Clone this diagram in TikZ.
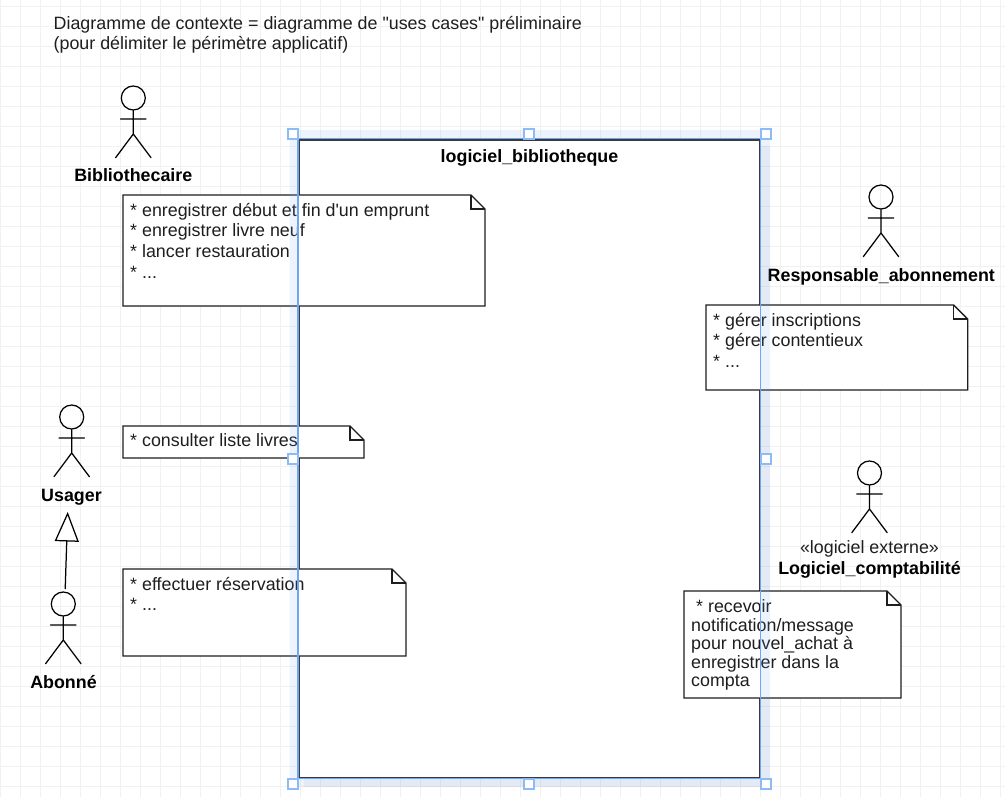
\documentclass[tikz,border=0pt]{standalone}
\usepackage{fontspec}
\setmainfont{Liberation Sans}[Ligatures={TeXOff,NoCommon}]
\usetikzlibrary{arrows.meta}
\definecolor{gridc}{HTML}{F1F1F1}
\definecolor{ink}{HTML}{1E1E1E}
\definecolor{frame}{HTML}{3A3A3A}
\definecolor{sel}{HTML}{6EA6F5}
\definecolor{handle}{HTML}{8DBBF9}
\tikzset{
  x=1pt,y=-1pt,
  actorline/.style={draw=black,line width=1.25pt,line cap=round},
  actorname/.style={font=\bfseries\fontsize{17.85}{20}\selectfont,text=black,inner sep=0pt,anchor=base},
  notebox/.style={draw=ink,fill=white,line width=1.4pt,line join=miter},
  notetext/.style={font=\fontsize{17.85}{20.6}\selectfont,text=ink,inner sep=0pt,anchor=north west,align=left},
  handlebox/.style={draw=handle,fill=white,line width=2pt,minimum size=9.5pt,inner sep=0pt,rectangle},
  band/.style={fill=sel,fill opacity=0.13,draw=none},
}
\newcommand{\actorfig}[3]{% name, head x, head y
  \node[circle,actorline,fill=none,minimum size=24pt,inner sep=0pt] (#1) at (#2,#3) {};
  \coordinate (#1-hip) at (#2,#3+36);
  \coordinate (#1-armL) at (#2-12.7,#3+21);
  \coordinate (#1-armR) at (#2+12.7,#3+21);
  \coordinate (#1-footL) at (#2-17.7,#3+59.7);
  \coordinate (#1-footR) at (#2+17.7,#3+59.7);
  \draw[actorline] (#1.south) -- (#1-hip) (#1-armL) -- (#1-armR)
    (#1-footL) -- (#1-hip) -- (#1-footR);
}
\newcommand{\notefig}[6]{% name, x1, y1, x2, y2, fold
  \draw[notebox] (#2,#3) -- (#4-#6,#3) -- (#4,#3+#6) -- (#4,#5) -- (#2,#5) -- cycle;
  \draw[notebox,fill=none] (#4-#6,#3) -- (#4-#6,#3+#6) -- (#4,#3+#6);
  \coordinate (#1) at (#2,#3);
}
\begin{document}
\begin{tikzpicture}
\useasboundingbox (0,0) rectangle (1005,797);
\fill[white] (0,0) rectangle (1005,797);
% grid
\foreach \gx in {0,...,50} \draw[gridc,line width=1pt] (\gx*20+0.5,0) -- (\gx*20+0.5,797);
\foreach \gy in {0,...,39} \draw[gridc,line width=1pt] (0,\gy*20+6.7) -- (1005,\gy*20+6.7);

% title
\node[notetext] (title) at (53.5,16) {Diagramme de contexte = diagramme de "uses cases" préliminaire\\(pour délimiter le périmètre applicatif)};

% main frame
\fill[black,opacity=0.04] (304,146) rectangle (770,787);
\node[draw=frame,fill=white,line width=1.5pt,outer sep=0pt,minimum width=460.3pt,minimum height=637.6pt,inner sep=0pt,anchor=north west] (system) at (299.2,140) {};
\node[actorname] (systemlabel) at (529.5,163) {logiciel\_bibliotheque};

% actors
\actorfig{biblio}{133.3}{98}
\node[actorname] (bibliolabel) at (133.3,182) {Bibliothecaire};
\actorfig{usager}{71.7}{417}
\node[actorname] (usagerlabel) at (71.5,501) {Usager};
\actorfig{abonne}{63.3}{604}
\node[actorname] (abonnelabel) at (63.5,688) {Abonné};
\actorfig{respo}{881}{197}
\node[actorname] (respolabel) at (881.3,281) {Responsable\_abonnement};
\actorfig{compta}{869.5}{473}
\node[inner sep=0pt,anchor=base,font=\fontsize{17.85}{20}\selectfont,text=ink] (comptastereo) at (869.5,553) {«logiciel externe»};
\node[actorname] (comptalabel) at (869.5,574) {Logiciel\_comptabilité};

% generalisation
\coordinate (genfrom) at (65.2,589);
\coordinate (gento) at (67.7,512);
\draw[line width=1.25pt,-{Triangle[open,length=29.5pt,width=24pt,fill=white]}] (genfrom) -- (gento);

% notes
\notefig{n1}{123}{195}{485}{306}{14}
\node[notetext] (n1text) at (130,203) {* enregistrer début et fin d'un emprunt\\* enregistrer livre neuf\\* lancer restauration\\* ...};
\notefig{n2}{123}{426}{364}{458}{14}
\node[notetext] (n2text) at (130,433) {* consulter liste livres};
\notefig{n3}{123}{569}{406}{656}{14}
\node[notetext] (n3text) at (130,577) {* effectuer réservation\\* ...};
\notefig{n4}{706}{305}{967.7}{390}{14}
\node[notetext] (n4text) at (713,313) {* gérer inscriptions\\* gérer contentieux\\* ...};
\notefig{n5}{684}{591}{901}{698}{14}
\node[notetext,font=\fontsize{17.85}{18.5}\selectfont] (n5text) at (691,599.5) {\hspace*{5pt}* recevoir\\notification/message\\pour nouvel\_achat à\\enregistrer dans la\\compta};

% selection overlay
\fill[band,even odd rule] (289.5,130) rectangle (770,787) (298,138) rectangle (761,779);
\draw[sel,line width=1.2pt] (298,138.5) rectangle (760.5,778.7);
\node[handlebox] (h1) at (293,134) {};
\node[handlebox] (h2) at (529,134) {};
\node[handlebox] (h3) at (766,134) {};
\node[handlebox] (h4) at (293,459) {};
\node[handlebox] (h5) at (766,459) {};
\node[handlebox] (h6) at (293,784) {};
\node[handlebox] (h7) at (529,784) {};
\node[handlebox] (h8) at (766,784) {};
\end{tikzpicture}
\end{document}
